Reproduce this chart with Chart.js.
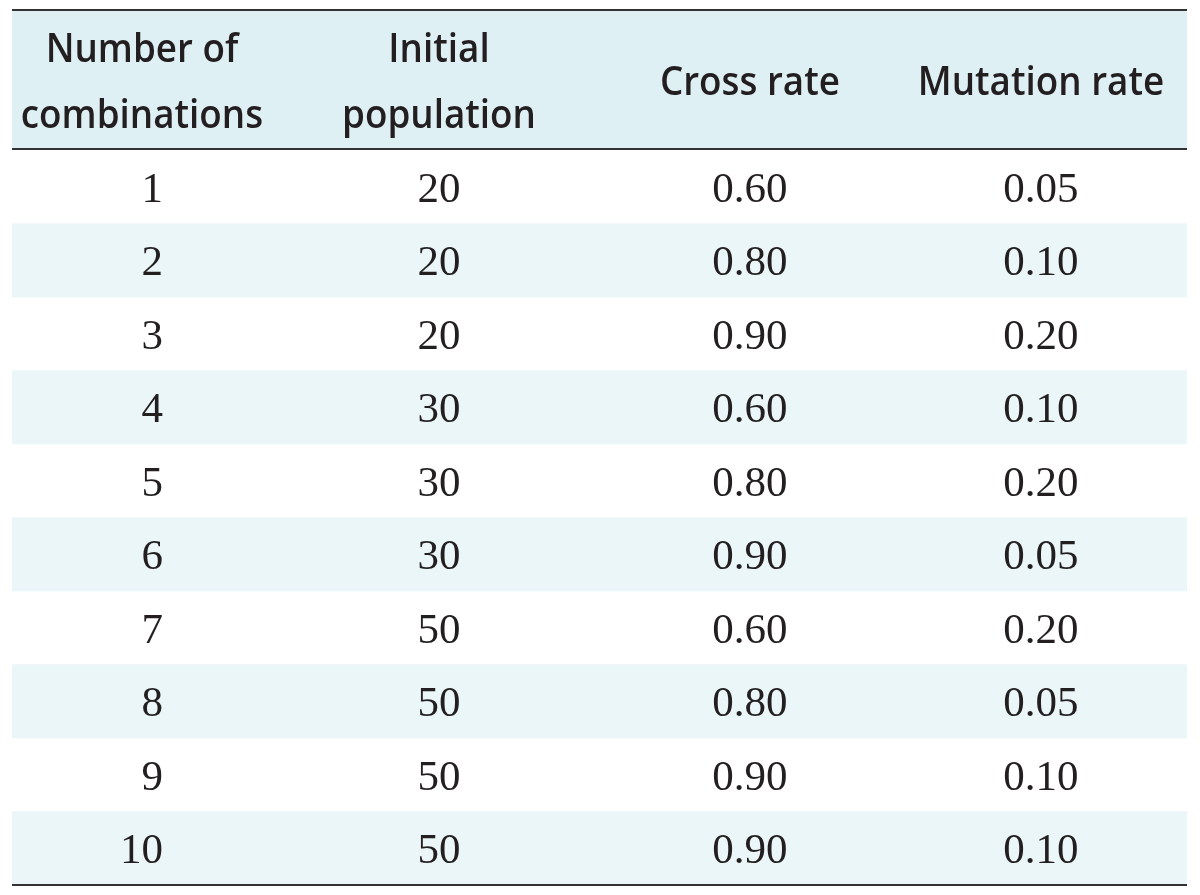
<!DOCTYPE html>
<html>
<head>
<meta charset="utf-8">
<script src="https://cdn.jsdelivr.net/npm/chart.js@4"></script>
<style>
  html, body { margin: 0; padding: 0; background: #fff; }
  #wrap { width: 1200px; height: 895px; position: relative; }
</style>
</head>
<body>
<div id="wrap"><canvas id="tableChart"></canvas></div>
<script>
// Table contents
const headers = [
  ['Number of', 'combinations'],
  ['Initial', 'population'],
  ['Cross rate'],
  ['Mutation rate']
];
const combinations = ['1', '2', '3', '4', '5', '6', '7', '8', '9', '10'];
const initialPopulation = [20, 20, 20, 30, 30, 30, 50, 50, 50, 50];
const crossRate = [0.60, 0.80, 0.90, 0.60, 0.80, 0.90, 0.60, 0.80, 0.90, 0.90];
const mutationRate = [0.05, 0.10, 0.20, 0.10, 0.20, 0.05, 0.20, 0.05, 0.10, 0.10];

// layout (fractions of the table width on the hidden x scale)
const headerX = [0.1106, 0.3634, 0.628, 0.8757];
const cellX = [0.1285, 0.3634, 0.628, 0.8757];
const cellAlign = ['right', 'center', 'center', 'center'];

const headerBg = '#dff0f4';
const stripeBg = '#ebf6f8';
const ruleColor = '#333333';
const textColor = '#231f20';

// draws text squeezed a little horizontally, like the condensed header face
function squeezedText(ctx, txt, px, py, sx) {
  ctx.save();
  ctx.translate(px, py);
  ctx.scale(sx, 1);
  ctx.fillText(txt, 0, 0);
  ctx.restore();
}

// Header, rules and cell text
const tablePlugin = {
  id: 'tableDraw',
  beforeDatasetsDraw(chart) {
    const { ctx, chartArea } = chart;
    ctx.save();
    ctx.fillStyle = headerBg;
    ctx.fillRect(chartArea.left, 10, chartArea.right - chartArea.left, chartArea.top - 10);
    ctx.restore();
  },
  afterDatasetsDraw(chart) {
    const { ctx, chartArea, scales } = chart;
    const x = scales.x, y = scales.y;
    ctx.save();

    // header text
    ctx.fillStyle = textColor;
    ctx.font = '600 40px "Open Sans"';
    ctx.textAlign = 'center';
    ctx.textBaseline = 'alphabetic';
    headers.forEach((lines, c) => {
      const px = x.getPixelForValue(headerX[c]);
      if (lines.length === 2) {
        squeezedText(ctx, lines[0], px, 62, 0.92);
        squeezedText(ctx, lines[1], px, 128, 0.92);
      } else {
        squeezedText(ctx, lines[0], px, 95, 0.92);
      }
    });

    // cells
    ctx.font = '43px "Liberation Serif"';
    const cols = [
      combinations,
      initialPopulation.map(v => String(v)),
      crossRate.map(v => v.toFixed(2)),
      mutationRate.map(v => v.toFixed(2))
    ];
    cols.forEach((col, c) => {
      ctx.textAlign = cellAlign[c];
      const px = x.getPixelForValue(cellX[c]);
      col.forEach((txt, r) => {
        ctx.fillText(txt, px, y.getPixelForValue(r) + 15);
      });
    });

    // rules
    ctx.strokeStyle = ruleColor;
    ctx.lineWidth = 2;
    [10, chartArea.top - 1, chartArea.bottom].forEach(py => {
      ctx.beginPath();
      ctx.moveTo(chartArea.left, py);
      ctx.lineTo(chartArea.right, py);
      ctx.stroke();
    });
    ctx.restore();
  }
};

const ctx = document.getElementById('tableChart').getContext('2d');
const tableChart = new Chart(ctx, {
  type: 'bar',
  data: {
    labels: combinations,
    datasets: [{
      label: 'stripes',
      data: combinations.map((c, i) => (i % 2 === 1 ? [0, 1] : null)),
      backgroundColor: stripeBg,
      borderWidth: 0,
      barPercentage: 1,
      categoryPercentage: 1
    }]
  },
  options: {
    indexAxis: 'y',
    responsive: true,
    maintainAspectRatio: false,
    animation: false,
    layout: { padding: { left: 12, right: 13, top: 150, bottom: 10 } },
    scales: {
      x: { type: 'linear', min: 0, max: 1, display: false },
      y: { type: 'category', display: false }
    },
    plugins: {
      legend: { display: false },
      tooltip: { enabled: false }
    }
  },
  plugins: [tablePlugin]
});
</script>
</body>
</html>
